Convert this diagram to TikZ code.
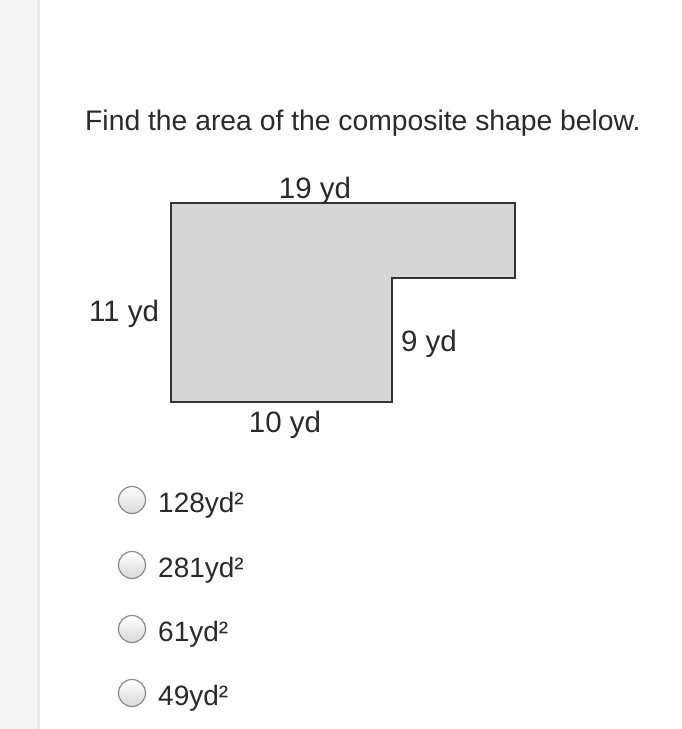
\documentclass[tikz,border=0pt]{standalone}
\usepackage{fontspec}
\setmainfont{Liberation Sans}
\definecolor{txt}{HTML}{2A2A2A}
\definecolor{side}{HTML}{F5F5F5}
\definecolor{sideedge}{HTML}{E8E8E8}
\definecolor{shapefill}{HTML}{D6D6D6}
\definecolor{shapeedge}{HTML}{333333}
\definecolor{radioedge}{HTML}{8A8A8A}
\begin{document}
\begin{tikzpicture}[x=1pt,y=-1pt,
  title/.style={anchor=base west,inner sep=0pt,text=txt,font=\fontsize{28.3}{32}\selectfont},
  dimlabel/.style={anchor=base,inner sep=0pt,text=txt,font=\fontsize{29.5}{32}\selectfont},
  answer/.style={anchor=base west,inner sep=0pt,text=txt,font=\fontsize{28}{32}\selectfont},
  radio/.style={circle,draw=radioedge,line width=1.2pt,minimum size=27pt,inner sep=0pt,top color=white,bottom color=black!15}]
\useasboundingbox (0,0) rectangle (681,729);
\fill[white] (0,0) rectangle (681,729);
\fill[side] (0,0) rectangle (37,729);
\fill[sideedge] (37,0) rectangle (40,729);
\node[title] (q) at (85,130) {Find the area of the composite shape below.};
\draw[fill=shapefill,draw=shapeedge,line width=2.5pt,line join=miter]
  (171,203) -- (515,203) -- (515,278) -- (392,278) -- (392,402) -- (171,402) -- cycle;
\node[dimlabel] (top) at (315,198) {19 yd};
\node[dimlabel] (left) at (124,321) {11 yd};
\node[dimlabel] (right) at (429,351) {9 yd};
\node[dimlabel] (bottom) at (285,432) {10 yd};
\node[radio] (r1) at (132,500) {};
\node[radio] (r2) at (132,565) {};
\node[radio] (r3) at (132,629) {};
\node[radio] (r4) at (132,693) {};
\node[answer] (a1) at (158,512) {128yd²};
\node[answer] (a2) at (158,577) {281yd²};
\node[answer] (a3) at (158,641) {61yd²};
\node[answer] (a4) at (158,705) {49yd²};
\end{tikzpicture}
\end{document}
